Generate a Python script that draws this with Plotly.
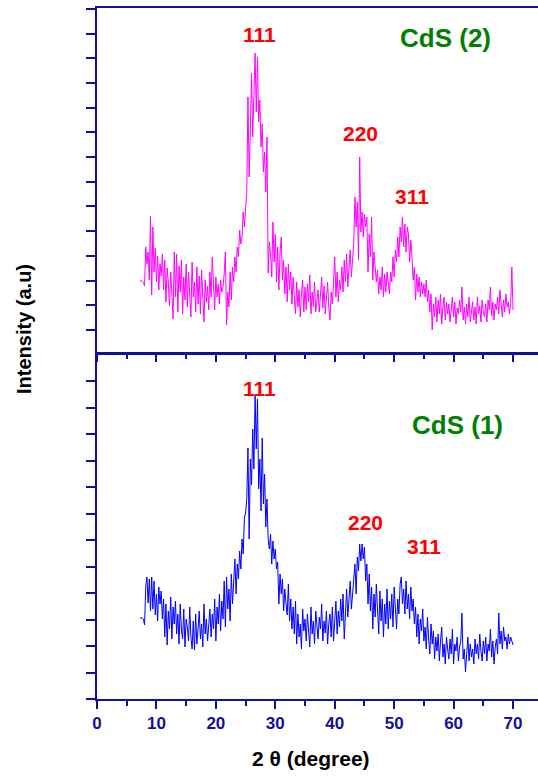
import plotly.graph_objects as go

# Scan grid (2theta, degrees)
scan_start = 7.2
scan_step = 0.2

# CdS (2) intensity (a.u.)
cds2 = [
    71, 71, 71, 70, 66, 105, 88, 100, 72, 136,
    57, 125, 80, 104, 70, 96, 62, 88, 76, 98,
    62, 92, 50, 84, 70, 46, 80, 58, 33, 100,
    55, 98, 40, 86, 60, 92, 38, 75, 52, 88,
    45, 80, 62, 35, 90, 55, 70, 40, 85, 48,
    76, 38, 82, 58, 30, 72, 50, 66, 42, 80,
    55, 95, 60, 42, 75, 55, 68, 48, 72, 60,
    65, 78, 100, 27, 60, 45, 80, 52, 85, 70,
    95, 80, 105, 95, 122, 108, 115, 140, 125, 149,
    160, 255, 175, 220, 279, 215, 270, 299, 240, 295,
    230, 252, 205, 228, 180, 200, 160, 215, 79, 110,
    98, 75, 130, 90, 118, 70, 105, 62, 100, 115,
    72, 92, 58, 85, 50, 88, 62, 80, 48, 75,
    55, 38, 70, 45, 62, 35, 58, 72, 40, 65,
    42, 68, 50, 77, 38, 60, 45, 70, 40, 55,
    62, 40, 58, 75, 44, 66, 38, 52, 70, 45,
    32, 60, 48, 70, 95, 55, 80, 50, 72, 62,
    85, 60, 92, 70, 98, 65, 88, 102, 75, 95,
    110, 155, 125, 150, 92, 195, 120, 140, 115, 138,
    125, 135, 80, 118, 95, 135, 72, 100, 85, 70,
    82, 58, 75, 62, 85, 55, 78, 60, 80, 65,
    58, 80, 70, 95, 75, 102, 90, 115, 95, 125,
    110, 135, 105, 128, 100, 125, 118, 90, 112, 95,
    72, 85, 52, 78, 60, 75, 55, 70, 58, 68,
    55, 72, 50, 62, 40, 58, 22, 48, 35, 55,
    30, 52, 38, 58, 28, 45, 55, 32, 50, 38,
    48, 30, 42, 55, 35, 50, 28, 44, 38, 52,
    40, 65, 32, 45, 28, 48, 35, 55, 30, 42,
    50, 32, 45, 28, 55, 38, 46, 30, 52, 40,
    35, 48, 30, 52, 42, 65, 36, 50, 32, 48,
    42, 55, 38, 62, 45, 35, 52, 40, 58, 45,
    50, 38, 48, 85, 42,
]

# CdS (1) intensity (a.u.)
cds1 = [
    81, 81, 81, 80, 74, 112, 122, 96, 120, 88,
    122, 90, 118, 84, 105, 78, 112, 95, 108, 80,
    100, 62, 95, 54, 88, 70, 102, 60, 92, 75,
    98, 65, 85, 55, 95, 70, 60, 90, 52, 80,
    72, 58, 92, 62, 50, 78, 49, 85, 55, 70,
    88, 60, 75, 52, 95, 65, 80, 58, 72, 90,
    62, 85, 70, 100, 58, 92, 75, 105, 68, 98,
    80, 118, 72, 122, 90, 110, 78, 125, 95, 115,
    140, 105, 135, 120, 148, 130, 160, 145, 181, 186,
    200, 251, 160, 240, 214, 270, 230, 304, 250, 300,
    210, 240, 188, 261, 195, 225, 172, 200, 160, 150,
    165, 135, 158, 140, 150, 130, 137, 95, 125, 105,
    120, 88, 110, 95, 84, 115, 78, 100, 70, 92,
    65, 98, 55, 85, 62, 75, 50, 90, 68, 80,
    58, 85, 70, 52, 92, 65, 78, 55, 88, 72,
    60, 82, 70, 95, 58, 78, 66, 88, 55, 75,
    85, 62, 92, 58, 80, 98, 65, 88, 72, 100,
    78, 105, 60, 92, 110, 82, 100, 118, 90, 112,
    120, 135, 105, 142, 128, 155, 138, 155, 140, 152,
    118, 135, 95, 125, 88, 112, 70, 105, 82, 115,
    92, 65, 108, 78, 100, 62, 95, 75, 110, 70,
    98, 80, 105, 72, 112, 88, 70, 100, 85, 115,
    122, 95, 110, 85, 118, 90, 105, 80, 112, 88,
    100, 75, 92, 62, 85, 55, 80, 68, 90, 58,
    72, 50, 82, 60, 45, 75, 55, 68, 40, 62,
    48, 65, 38, 58, 72, 42, 55, 35, 62, 50,
    40, 60, 45, 70, 35, 55, 48, 62, 38, 52,
    58, 86, 40, 50, 27, 45, 62, 38, 55, 42,
    50, 35, 60, 45, 55, 40, 65, 48, 38, 58,
    45, 62, 38, 55, 48, 70, 42, 58, 35, 52,
    60, 45, 86, 55, 68, 50, 72, 58, 62, 50,
    65, 55, 62, 58, 54,
]

two_theta_2 = [round(scan_start + scan_step * i, 2) for i in range(len(cds2))]
two_theta_1 = [round(scan_start + scan_step * i, 2) for i in range(len(cds1))]

# Peak labels: (text, 2theta, intensity)
labels_top = [("111", 27.26, 318), ("220", 44.25, 218), ("311", 53.0, 155)]
labels_bot = [("111", 27.26, 311), ("220", 45.1, 177), ("311", 55.0, 153)]
sample_top = ("CdS (2)", 58.6, 314)
sample_bot = ("CdS (1)", 60.6, 274)

AX = "#10109a"
FONT = "Liberation Sans, Arial, sans-serif"

fig = go.Figure()
fig.add_trace(go.Scatter(x=two_theta_2, y=cds2, mode="lines",
                         line=dict(color="#FF00FF", width=1),
                         xaxis="x2", yaxis="y2", showlegend=False))
fig.add_trace(go.Scatter(x=two_theta_1, y=cds1, mode="lines",
                         line=dict(color="#0000FF", width=1),
                         xaxis="x", yaxis="y", showlegend=False))

xcommon = dict(range=[0, 74.2], showgrid=False, zeroline=False,
               showline=True, linecolor=AX, linewidth=2,
               ticks="outside", ticklen=8, tickwidth=2, tickcolor=AX,
               dtick=10, tick0=0,
               minor=dict(dtick=5, ticks="outside", ticklen=5, tickwidth=2, tickcolor=AX),
               mirror=True)
ycommon = dict(range=[0, 344], showgrid=False, zeroline=False,
               showline=True, linecolor=AX, linewidth=2,
               ticks="outside", ticklen=9, tickwidth=2, tickcolor=AX,
               showticklabels=False)

annotations = []
for txt, x, y in labels_top:
    annotations.append(dict(text=txt, x=x, y=y, xref="x2", yref="y2", showarrow=False,
                            font=dict(family=FONT, size=21, color="#FF0000", weight="bold")))
for txt, x, y in labels_bot:
    annotations.append(dict(text=txt, x=x, y=y, xref="x", yref="y", showarrow=False,
                            font=dict(family=FONT, size=21, color="#FF0000", weight="bold")))
annotations.append(dict(text=sample_top[0], x=sample_top[1], y=sample_top[2], xref="x2", yref="y2",
                        showarrow=False, font=dict(family=FONT, size=26, color="#008000", weight="bold")))
annotations.append(dict(text=sample_bot[0], x=sample_bot[1], y=sample_bot[2], xref="x", yref="y",
                        showarrow=False, font=dict(family=FONT, size=26, color="#008000", weight="bold")))
annotations.append(dict(text="Intensity (a.u)", x=-0.1655, y=0.5355, xref="paper", yref="paper",
                        textangle=-90, showarrow=False, xanchor="center", yanchor="middle",
                        font=dict(family=FONT, size=20, color="#000000", weight="bold")))
annotations.append(dict(text="2 θ (degree)", x=0.485, y=-0.0868, xref="paper", yref="paper",
                        showarrow=False, xanchor="center", yanchor="middle",
                        font=dict(family=FONT, size=21, color="#000000", weight="bold")))

fig.update_layout(
    width=538, height=778,
    margin=dict(l=97, r=0, t=8, b=79),
    paper_bgcolor="white", plot_bgcolor="white",
    xaxis=dict(**xcommon, anchor="y", showticklabels=True,
               tickfont=dict(family=FONT, size=17, color=AX, weight="bold")),
    yaxis=dict(**ycommon, domain=[0, 0.4978], anchor="x", tick0=0, dtick=26.5),
    xaxis2=dict(**xcommon, anchor="y2", showticklabels=False),
    yaxis2=dict(**ycommon, domain=[0.5022, 1], anchor="x2", tick0=22, dtick=24.7),
    annotations=annotations,
)

fig.write_html("out.html")
